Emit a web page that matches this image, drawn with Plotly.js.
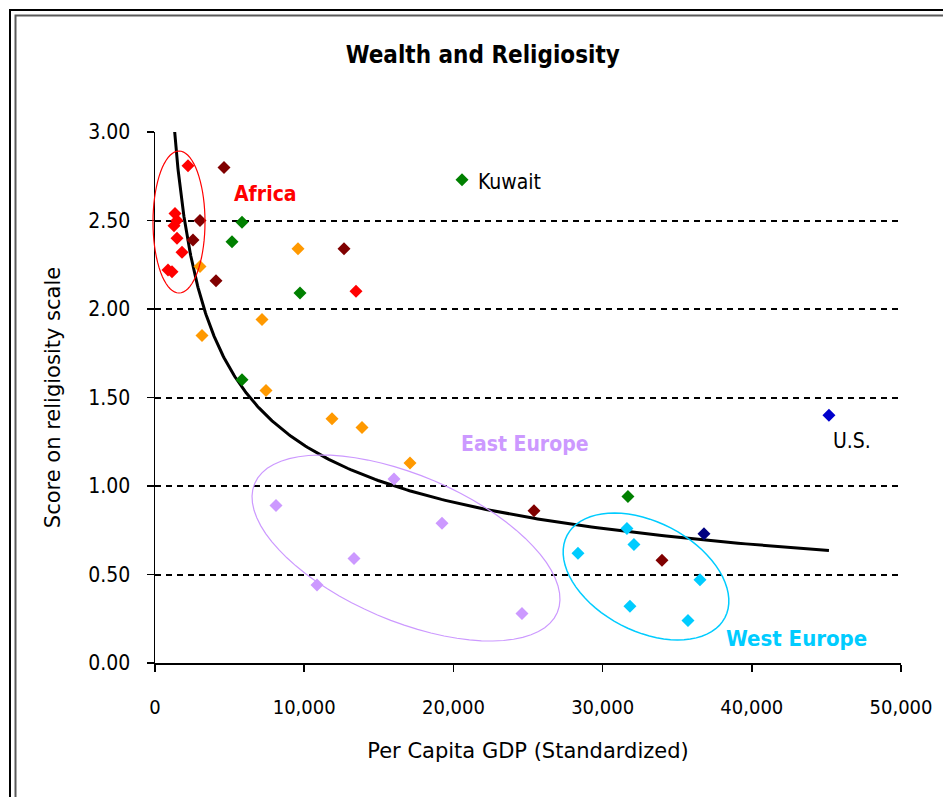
<!DOCTYPE html>
<html>
<head>
<meta charset="utf-8">
<script src="https://cdn.plot.ly/plotly-3.0.1.min.js"></script>
<style>
html,body{margin:0;padding:0;background:#fff;}
#chart{width:943px;height:797px;}
</style>
</head>
<body>
<div id="chart"></div>
<script>
// ---- Data (Per Capita GDP, religiosity score) ----
const africaX = [2212, 1340, 1474, 1273, 1474, 1810, 871, 1139, 13471];
const africaY = [2.81, 2.54, 2.50, 2.47, 2.40, 2.32, 2.22, 2.21, 2.10];

const maroonX = [4624, 3016, 2547, 4088, 12667, 25401, 33979];
const maroonY = [2.80, 2.50, 2.39, 2.16, 2.34, 0.86, 0.58];

const greenX = [20575, 5831, 5161, 9718, 5831, 31700];
const greenY = [2.73, 2.49, 2.38, 2.09, 1.60, 0.94];

const orangeX = [3016, 9584, 7171, 3150, 7439, 11863, 13873, 17090];
const orangeY = [2.24, 2.34, 1.94, 1.85, 1.54, 1.38, 1.33, 1.13];

const eastEuropeX = [16018, 8109, 19235, 13337, 10857, 24596];
const eastEuropeY = [1.04, 0.89, 0.79, 0.59, 0.44, 0.28];

const westEuropeX = [31633, 32102, 28349, 36526, 31834, 35722];
const westEuropeY = [0.76, 0.67, 0.62, 0.47, 0.32, 0.24];

const navyX = [36794];
const navyY = [0.73];

const usX = [45171];
const usY = [1.40];

const xTickVals = [0, 10000, 20000, 30000, 40000, 50000];
const xTickText = ['0', '10,000', '20,000', '30,000', '40,000', '50,000'];
const yTickVals = [0, 0.5, 1, 1.5, 2, 2.5, 3];
const yTickText = ['0.00', '0.50', '1.00', '1.50', '2.00', '2.50', '3.00'];

// ---- Layout geometry ----
const W = 943, H = 797;
const M = {l: 155, r: 42, t: 132, b: 134};
const PW = W - M.l - M.r, PH = H - M.t - M.b;
const FONT = '"DejaVu Sans Condensed", "DejaVu Sans", sans-serif';
const FONT_W = '"DejaVu Sans", sans-serif';

// power trendline (least squares in log space) over all points
const allX = [].concat(africaX, maroonX, greenX, orangeX, eastEuropeX, westEuropeX, navyX, usX);
const allY = [].concat(africaY, maroonY, greenY, orangeY, eastEuropeY, westEuropeY, navyY, usY);
let sx = 0, sy = 0, sxx = 0, sxy = 0, n = allX.length;
for (let i = 0; i < n; i++) {
  const lx = Math.log(allX[i]), ly = Math.log(allY[i]);
  sx += lx; sy += ly; sxx += lx * lx; sxy += lx * ly;
}
const bFit = (n * sxy - sx * sy) / (n * sxx - sx * sx);
const aFit = Math.exp((sy - bFit * sx) / n);
const minX = Math.min.apply(null, allX), maxX = Math.max.apply(null, allX);
const trendX = [], trendY = [];
for (let i = 0; i <= 300; i++) {
  const xv = minX * Math.pow(maxX / minX, i / 300);
  trendX.push(xv); trendY.push(aFit * Math.pow(xv, bFit));
}

function pts(x, y, color) {
  return {x: x, y: y, type: 'scatter', mode: 'markers', hoverinfo: 'x+y',
    marker: {symbol: 'diamond', size: 10, color: color, line: {width: 0}}, showlegend: false};
}

const traces = [
  {x: trendX, y: trendY, type: 'scatter', mode: 'lines', line: {color: '#000', width: 3}, showlegend: false, hoverinfo: 'skip'},
  pts(africaX, africaY, '#FF0000'),
  pts(maroonX, maroonY, '#800000'),
  pts(greenX, greenY, '#008000'),
  pts(orangeX, orangeY, '#FF9900'),
  pts(eastEuropeX, eastEuropeY, '#CC99FF'),
  pts(westEuropeX, westEuropeY, '#00CCFF'),
  pts(navyX, navyY, '#000080'),
  pts(usX, usY, '#0000CC')
];

// ellipse outline in paper coords from a pixel-space description
function px2paperX(px) { return (px - M.l) / PW; }
function px2paperY(py) { return (M.t + PH - py) / PH; }
function ellipsePath(cx, cy, a, b, deg) {
  const th = deg * Math.PI / 180;
  let d = '';
  for (let i = 0; i <= 72; i++) {
    const t = i / 72 * 2 * Math.PI;
    const px = cx + a * Math.cos(t) * Math.cos(th) - b * Math.sin(t) * Math.sin(th);
    const py = cy + a * Math.cos(t) * Math.sin(th) + b * Math.sin(t) * Math.cos(th);
    d += (i === 0 ? 'M' : 'L') + px2paperX(px).toFixed(5) + ',' + px2paperY(py).toFixed(5);
  }
  return d + 'Z';
}

const shapes = [
  {type: 'path', xref: 'paper', yref: 'paper', path: ellipsePath(179, 222, 26, 71, 0), line: {color: '#FF0000', width: 1.2}},
  {type: 'path', xref: 'paper', yref: 'paper', path: ellipsePath(406, 548, 164.5, 72.8, 23.1), line: {color: '#CC99FF', width: 1.2}},
  {type: 'path', xref: 'paper', yref: 'paper', path: ellipsePath(646, 576.5, 89, 54.5, 27.5), line: {color: '#00CCFF', width: 1.5}},
  // chart-area frame (top/left visible in the crop)
  {type: 'path', xref: 'paper', yref: 'paper',
    path: 'M' + px2paperX(10) + ',' + px2paperY(H + 5) + 'L' + px2paperX(10) + ',' + px2paperY(10) + 'L' + px2paperX(W + 5) + ',' + px2paperY(10),
    line: {color: '#000', width: 2}},
  {type: 'path', xref: 'paper', yref: 'paper',
    path: 'M' + px2paperX(15.5) + ',' + px2paperY(H + 5) + 'L' + px2paperX(15.5) + ',' + px2paperY(15.5) + 'L' + px2paperX(W + 5) + ',' + px2paperY(15.5),
    line: {color: '#5a5a5a', width: 2}}
];

const annotations = [
  {x: 7439, y: 2.65, text: '<b>Africa</b>', showarrow: false, font: {family: FONT, size: 21, color: '#FF0000'}},
  {x: 21500, y: 2.72, text: 'Kuwait', xanchor: 'left', showarrow: false, font: {family: FONT, size: 21, color: '#000'}},
  {x: 24797, y: 1.237, text: '<b>East Europe</b>', showarrow: false, font: {family: FONT, size: 21, color: '#CC99FF'}},
  {x: 43027, y: 0.141, text: '<b>West Europe</b>', showarrow: false, font: {family: FONT, size: 22, color: '#00CCFF'}},
  {x: 46713, y: 1.254, text: 'U.S.', showarrow: false, font: {family: FONT, size: 21, color: '#000'}}
];

const layout = {
  width: W, height: H,
  margin: M,
  paper_bgcolor: '#fff', plot_bgcolor: '#fff',
  font: {family: FONT, size: 20, color: '#000'},
  title: {text: '<b>Wealth and Religiosity</b>', x: 0.512, xanchor: 'center', y: 1 - 55 / H, yanchor: 'middle',
    font: {family: FONT, size: 24, color: '#000'}},
  xaxis: {
    range: [0, 50000], tickvals: xTickVals, ticktext: xTickText,
    showgrid: false, zeroline: false, showline: true, linecolor: '#000', linewidth: 1.5,
    ticks: 'outside', ticklen: 7, tickcolor: '#000', tickwidth: 1.5,
    ticklabelstandoff: 18,
    tickfont: {family: FONT, size: 20, color: '#000'},
    title: {text: 'Per Capita GDP (Standardized)', standoff: 26, font: {family: FONT_W, size: 21, color: '#000'}},
    fixedrange: true
  },
  yaxis: {
    range: [0, 3], tickvals: yTickVals, ticktext: yTickText,
    showgrid: true, gridcolor: '#000', gridwidth: 2, griddash: '6px,5px',
    zeroline: false, showline: true, linecolor: '#000', linewidth: 1.5,
    ticks: 'outside', ticklen: 7, tickcolor: '#000', tickwidth: 1.5,
    ticklabelstandoff: 12,
    tickfont: {family: FONT, size: 21, color: '#000'},
    title: {text: 'Score on religiosity scale', standoff: 22, font: {family: FONT_W, size: 21, color: '#000'}},
    fixedrange: true
  },
  shapes: shapes,
  annotations: annotations
};

Plotly.newPlot('chart', traces, layout, {displayModeBar: false, staticPlot: true});
</script>
</body>
</html>
